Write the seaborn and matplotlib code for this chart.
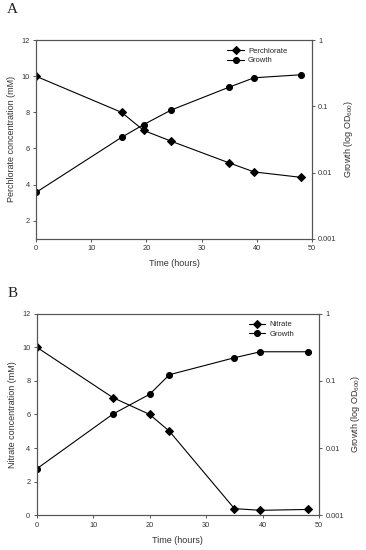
import matplotlib
matplotlib.use('Agg')
import matplotlib.pyplot as plt
import seaborn as sns

sns.set_style('ticks')
plt.rcParams['font.family'] = ['Liberation Sans', 'DejaVu Sans']
plt.rcParams['mathtext.default'] = 'regular'

# panel A: perchlorate
perc_time = [0, 15.5, 19.5, 24.5, 35, 39.5, 48]
perc_conc = [10, 8, 7, 6.4, 5.2, 4.7, 4.4]
perc_growth = [0.005, 0.034, 0.053, 0.088, 0.195, 0.27, 0.30]

# panel B: nitrate
nit_time = [0, 13.5, 20, 23.5, 35, 39.6, 48]
nit_conc = [10, 7, 6, 5, 0.4, 0.3, 0.35]
nit_growth = [0.0049, 0.032, 0.063, 0.123, 0.22, 0.27, 0.27]

log_ticks = [0.001, 0.01, 0.1, 1]
log_labels = ['0.001', '0.01', '0.1', '1']

axis_col = '#555555'
text_col = '#333333'


def panel(fig, rect, time, conc, growth, name, ylab, ylim, yticks, letter, letter_y):
    ax = fig.add_axes(rect)
    sns.lineplot(x=time, y=conc, ax=ax, color='black', marker='D', markersize=4.5,
                 markeredgecolor='black', linewidth=0.8, label=name, legend=False)
    ax2 = ax.twinx()
    sns.lineplot(x=time, y=growth, ax=ax2, color='black', marker='o', markersize=4.3,
                 markeredgecolor='black', linewidth=0.8, label='Growth', legend=False)
    ax2.set_yscale('log')
    ax2.set_ylim(0.001, 1)
    ax2.set_yticks(log_ticks)
    ax2.set_yticklabels(log_labels)
    ax2.minorticks_off()

    ax.set_xlim(0, 50)
    ax.set_xticks([0, 10, 20, 30, 40, 50])
    ax.set_ylim(*ylim)
    ax.set_yticks(yticks)

    for a in (ax, ax2):
        for s in a.spines.values():
            s.set_color(axis_col)
            s.set_linewidth(0.8)
        a.tick_params(labelsize=5.3, colors=axis_col, labelcolor=text_col,
                      length=2.5, width=0.7, pad=2, direction='out')

    ax.set_xlabel('Time (hours)', fontsize=6.5, color=text_col, labelpad=5)
    ax.set_ylabel(ylab, fontsize=6.5, color=text_col, labelpad=4)
    ax2.set_ylabel('Growth (log OD$_{600}$)', fontsize=6.5, color=text_col, labelpad=4)

    h1, l1 = ax.get_legend_handles_labels()
    h2, l2 = ax2.get_legend_handles_labels()
    ax2.legend(h1 + h2, l1 + l2, loc='upper right', bbox_to_anchor=(0.93, 0.99),
               frameon=False, fontsize=5.5, handlelength=2.2, handletextpad=0.5,
               labelspacing=0.3, borderpad=0.2)
    fig.text(0.02, letter_y, letter, fontsize=11, family='Liberation Serif',
             color='#222222', va='center')
    return ax


fig = plt.figure(figsize=(3.66, 5.5), dpi=100)
panel(fig, [0.0984, 0.566, 0.754, 0.361], perc_time, perc_conc, perc_growth,
      'Perchlorate', 'Perchlorate concentration (mM)', (1, 12), [2, 4, 6, 8, 10, 12],
      'A', 0.982)
panel(fig, [0.100, 0.063, 0.772, 0.367], nit_time, nit_conc, nit_growth,
      'Nitrate', 'Nitrate concentration (mM)', (0, 12), [0, 2, 4, 6, 8, 10, 12],
      'B', 0.467)

fig.savefig('out.png', dpi=100, facecolor='white')
